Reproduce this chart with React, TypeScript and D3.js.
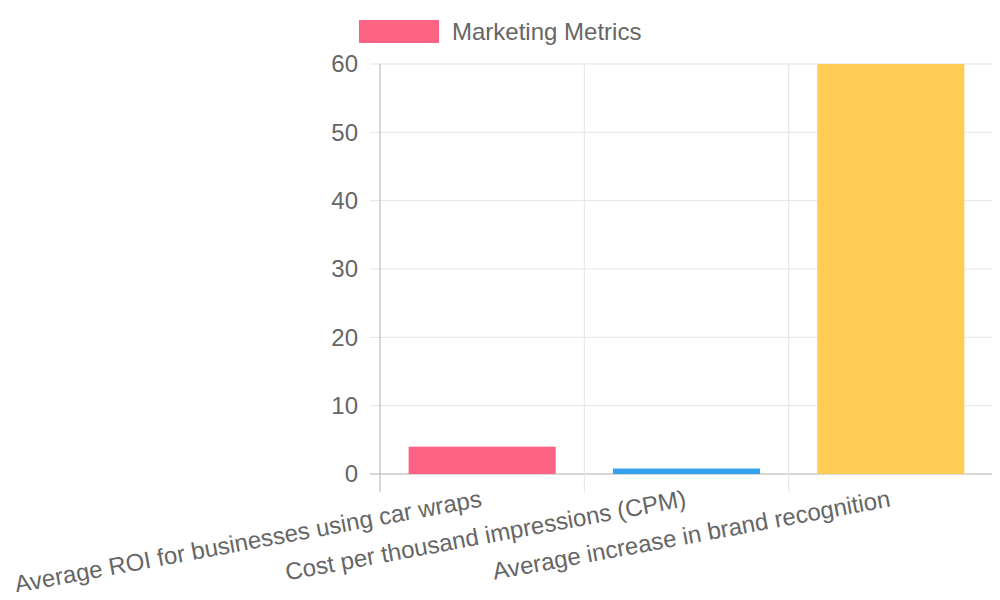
import { useEffect, useRef } from "react";
import * as d3 from "d3";

const categories = [
  "Average ROI for businesses using car wraps",
  "Cost per thousand impressions (CPM)",
  "Average increase in brand recognition",
];
const values = [4, 0.8, 60];
const barColors = ["#ff6384", "#36a2eb", "#ffcd56"];
const yTicks = [0, 10, 20, 30, 40, 50, 60];
const seriesName = "Marketing Metrics";

export default function App() {
  const ref = useRef<HTMLDivElement>(null);

  useEffect(() => {
    const outerWidth = 1000;
    const outerHeight = 600;
    const left = 380;
    const right = 993;
    const top = 64;
    const bottom = 474;
    const font = "'Liberation Sans', Arial, sans-serif";
    const textColor = "#666";
    const gridColor = "#e5e5e5";
    const axisColor = "#b0b0b0";

    const svg = d3
      .select(ref.current)
      .html("")
      .append("svg")
      .attr("width", outerWidth)
      .attr("height", outerHeight)
      .style("display", "block")
      .style("font-family", font);

    const x = d3
      .scaleBand<string>()
      .domain(categories)
      .range([left, right])
      .paddingInner(0)
      .paddingOuter(0);

    const y = d3.scaleLinear().domain([0, 60]).range([bottom, top]);

    // horizontal grid
    svg
      .append("g")
      .selectAll("line")
      .data(yTicks)
      .join("line")
      .attr("x1", left - 10)
      .attr("x2", right)
      .attr("y1", (d) => y(d))
      .attr("y2", (d) => y(d))
      .attr("stroke", (d) => (d === 0 ? axisColor : gridColor))
      .attr("stroke-width", 1);

    // vertical grid
    const xEdges = [...categories.map((c) => x(c) as number), right];
    svg
      .append("g")
      .selectAll("line")
      .data(xEdges)
      .join("line")
      .attr("x1", (d) => d)
      .attr("x2", (d) => d)
      .attr("y1", top)
      .attr("y2", bottom + 18)
      .attr("stroke", (d, i) => (i === 0 ? axisColor : gridColor))
      .attr("stroke-width", 1);

    // bars
    const bw = x.bandwidth();
    svg
      .append("g")
      .selectAll("rect")
      .data(categories)
      .join("rect")
      .attr("x", (d) => (x(d) as number) + bw * 0.14)
      .attr("width", bw * 0.72)
      .attr("y", (d, i) => y(values[i]))
      .attr("height", (d, i) => bottom - y(values[i]))
      .attr("fill", (d, i) => barColors[i]);

    // y tick labels
    svg
      .append("g")
      .selectAll("text")
      .data(yTicks)
      .join("text")
      .attr("x", left - 22)
      .attr("y", (d) => y(d))
      .attr("dy", "0.35em")
      .attr("text-anchor", "end")
      .attr("font-size", 24)
      .attr("fill", textColor)
      .text((d) => d);

    // x labels, rotated
    svg
      .append("g")
      .selectAll("text")
      .data(categories)
      .join("text")
      .attr(
        "transform",
        (d) => `translate(${(x(d) as number) + bw / 2 - 1},${bottom + 24}) rotate(-10.5)`
      )
      .attr("text-anchor", "end")
      .attr("dy", "0.35em")
      .attr("font-size", 24)
      .attr("fill", textColor)
      .text((d) => d);

    // legend
    const legend = svg.append("g");
    legend
      .append("rect")
      .attr("x", 359)
      .attr("y", 20)
      .attr("width", 80)
      .attr("height", 23)
      .attr("fill", barColors[0]);
    legend
      .append("text")
      .attr("x", 452)
      .attr("y", 32)
      .attr("dy", "0.35em")
      .attr("font-size", 24)
      .attr("fill", textColor)
      .text(seriesName);
  }, []);

  return <div ref={ref} style={{ margin: -8 }} />;
}
